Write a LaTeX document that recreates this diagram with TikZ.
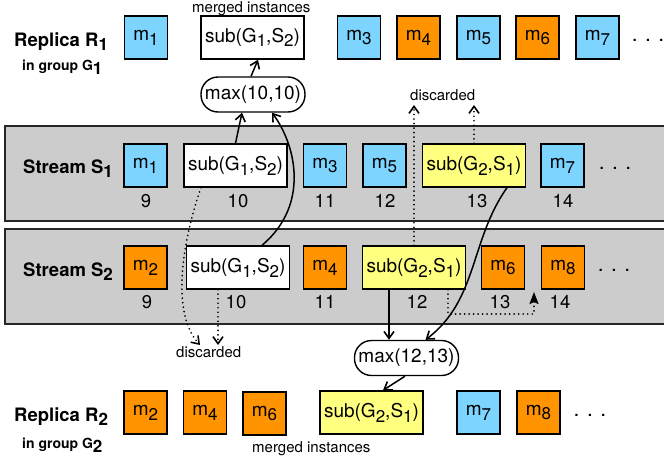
\documentclass[tikz,border=0pt]{standalone}
\usepackage{fontspec}
\setmainfont{TeX Gyre Heros}
\usetikzlibrary{arrows.meta,calc}
\definecolor{msgblue}{RGB}{125,212,255}
\definecolor{msgorange}{RGB}{255,148,0}
\definecolor{subyellow}{RGB}{255,255,128}
\definecolor{bandgray}{RGB}{204,204,204}
% lowered, nearly full-size index
\newcommand\sbx[1]{\raisebox{-4.8pt}{\fontsize{17}{17}\selectfont #1}}
\newcommand\ddd{.\hspace{7.5pt}.\hspace{7.5pt}.}
\begin{document}
\begin{tikzpicture}[x=1pt,y=-1pt,
  msg/.style={draw=black, line width=1.4pt, minimum width=43pt, minimum height=43pt,
    inner sep=0pt, font=\fontsize{19}{21}\selectfont},
  bluemsg/.style={msg, fill=msgblue},
  orangemsg/.style={msg, fill=msgorange},
  subwhite/.style={msg, fill=white, minimum width=103pt},
  subyel/.style={msg, fill=subyellow, minimum width=103pt},
  maxbox/.style={draw=black, fill=white, line width=1.4pt, rounded corners=17pt,
    minimum width=104pt, minimum height=35pt, inner sep=0pt, font=\fontsize{19}{21}\selectfont},
  dotsnode/.style={inner sep=0pt, font=\fontsize{21}{22}\selectfont},
  band/.style={fill=bandgray, draw=black!85, line width=1.4pt},
  conn/.style={line width=1.5pt, -{Straight Barb[length=7pt,width=10pt,line width=1.6pt]}},
  dotconn/.style={conn, line cap=round, dash pattern=on 0.01pt off 4.5pt, line width=1.9pt},
  rowlbl/.style={font=\bfseries\fontsize{18.5}{20}\selectfont, anchor=base west, inner sep=0pt},
  grouplbl/.style={font=\bfseries\fontsize{14}{16}\selectfont, anchor=base west, inner sep=0pt},
  note/.style={font=\fontsize{15}{16}\selectfont, anchor=base west, inner sep=0pt},
  num/.style={font=\fontsize{18.5}{20}\selectfont, anchor=base, inner sep=0pt}]

\clip (0,0) rectangle (664,461);

% stream bands
\draw[band] (5,126) rectangle (690,221);
\draw[band] (5,229) rectangle (690,324);

% replica R1
\node[rowlbl] (lr1) at (14,46) {Replica R\sbx{1}};
\node[grouplbl] (lg1) at (22,70) {in group G\sbx{1}};
\node[bluemsg] (r1m1) at (146,37.5) {m\sbx{1}};
\node[subwhite] (r1s) at (252.5,37.5) {sub(G\sbx{1},S\sbx{2})};
\node[bluemsg] (r1m3) at (359,37.5) {m\sbx{3}};
\node[orangemsg] (r1m4) at (418.5,37.5) {m\sbx{4}};
\node[bluemsg] (r1m5) at (478.5,37.5) {m\sbx{5}};
\node[orangemsg] (r1m6) at (537.5,37.5) {m\sbx{6}};
\node[bluemsg] (r1m7) at (597.5,37.5) {m\sbx{7}};
\node[dotsnode] (r1d) at (648,40) {\ddd};
\node[note] (mi1) at (192,12) {merged instances};
\node[maxbox] (mx1) at (253,94.5) {max(10,10)};

% stream S1
\node[rowlbl] (ls1) at (23,173) {Stream S\sbx{1}};
\node[bluemsg] (s1m1) at (145.5,165.5) {m\sbx{1}};
\node[subwhite] (s1a) at (235.5,165.5) {sub(G\sbx{1},S\sbx{2})};
\node[bluemsg] (s1m3) at (325,165.5) {m\sbx{3}};
\node[bluemsg] (s1m5) at (384.5,165.5) {m\sbx{5}};
\node[subyel] (s1b) at (474,165.5) {sub(G\sbx{2},S\sbx{1})};
\node[bluemsg] (s1m7) at (562.5,165.5) {m\sbx{7}};
\node[dotsnode] (s1d) at (615,168) {\ddd};
\node[num] at (146,207) {9};
\node[num] at (238,207) {10};
\node[num] at (325,207) {11};
\node[num] at (385,207) {12};
\node[num] at (477,207) {13};
\node[num] at (563,207) {14};

% stream S2
\node[rowlbl] (ls2) at (23,276) {Stream S\sbx{2}};
\node[orangemsg] (s2m2) at (145.5,267.5) {m\sbx{2}};
\node[subwhite] (s2a) at (238,267.5) {sub(G\sbx{1},S\sbx{2})};
\node[orangemsg] (s2m4) at (325,267.5) {m\sbx{4}};
\node[subyel] (s2b) at (414,267.5) {sub(G\sbx{2},S\sbx{1})};
\node[orangemsg] (s2m6) at (503,267.5) {m\sbx{6}};
\node[orangemsg] (s2m8) at (563,267.5) {m\sbx{8}};
\node[dotsnode] (s2d) at (614,270) {\ddd};
\node[num] at (147,308) {9};
\node[num] at (236,308) {10};
\node[num] at (325,308) {11};
\node[num] at (417,308) {12};
\node[num] at (500,308) {13};
\node[num] at (560,308) {14};

\node[maxbox] (mx2) at (406.5,358) {max(12,13)};

% replica R2
\node[rowlbl] (lr2) at (14,421) {Replica R\sbx{2}};
\node[grouplbl] (lg2) at (22,448) {in group G\sbx{2}};
\node[orangemsg] (r2m2) at (145.5,412.5) {m\sbx{2}};
\node[orangemsg] (r2m4) at (205,412.5) {m\sbx{4}};
\node[orangemsg] (r2m6) at (264.5,413.5) {m\sbx{6}};
\node[subyel] (r2s) at (371.5,412.5) {sub(G\sbx{2},S\sbx{1})};
\node[bluemsg] (r2m7) at (478.5,412.5) {m\sbx{7}};
\node[orangemsg] (r2m8) at (538.5,412.5) {m\sbx{8}};
\node[dotsnode] (r2d) at (590,415) {\ddd};
\node[note] (mi2) at (252,452) {merged instances};

% discarded copies
\node[note] (dtop) at (410,100) {discarded};
\node[note] (dbot) at (176,357) {discarded};
\coordinate (u1) at (414,105);
\coordinate (u2) at (474,105);
\coordinate (d1) at (200,345);
\coordinate (d2) at (218,345);
\coordinate (tip) at (534,292);

% merge of sub(G1,S2)
\draw[conn] (s1a.north) -- ([xshift=-11pt]mx1.south);
\draw[conn] ([xshift=24pt]s2a.north) .. controls (310,205) and (296,145) .. ([xshift=19pt]mx1.south);
\draw[conn] ([xshift=-2pt]mx1.north) -- ([xshift=5.5pt]r1s.south);
\draw[dotconn] ([xshift=-34.5pt]s1a.south) .. controls (186,230) and (168,310) .. (d1);
\draw[dotconn] ([xshift=-20pt]s2a.south) -- (d2);

% merge of sub(G2,S1)
\draw[conn] ([xshift=33pt]s1b.south) .. controls (470,240) and (478,300) .. ([xshift=19pt]mx2.north);
\draw[conn] ([xshift=-25pt]s2b.south) -- ([xshift=-17.5pt]mx2.north);
\draw[conn] ([xshift=-1.5pt]mx2.south) -- ([xshift=11.5pt]r2s.north);
\draw[dotconn] (s2b.north) -- (u1);
\draw[dotconn] (s1b.north) -- (u2);
\draw[line width=1.9pt, line cap=round, dash pattern=on 0.01pt off 4.5pt,
  -{Stealth[length=12pt,width=9pt,inset=2pt,line cap=butt]}]
  ([xshift=34pt]s2b.south) -- ++(0,24) -| (tip);
\end{tikzpicture}
\end{document}
